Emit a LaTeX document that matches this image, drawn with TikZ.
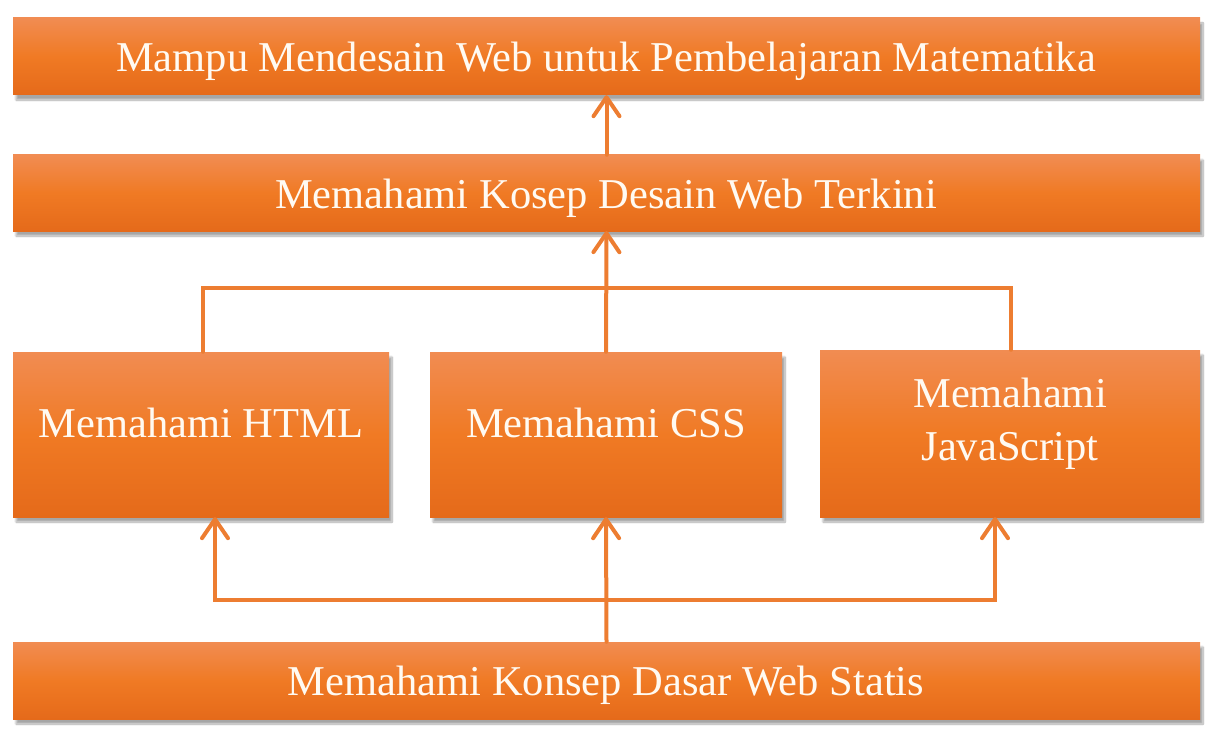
\documentclass[tikz,border=0pt]{standalone}
\usepackage{fontspec}
\setmainfont{Liberation Serif}
\usetikzlibrary{arrows.meta,shadows.blur}
\definecolor{otop}{HTML}{F18C52}
\definecolor{omid}{HTML}{F07A24}
\definecolor{obot}{HTML}{E56A1A}
\definecolor{oline}{HTML}{ED7D31}
\definecolor{otext}{HTML}{FFFAF2}
\tikzset{
  box/.style={rectangle, inner sep=0pt, top color=otop, bottom color=obot, middle color=omid,
    draw=none,
    blur shadow={shadow xshift=3pt, shadow yshift=-5pt, shadow blur steps=10, shadow blur extra rounding=0pt, shadow opacity=35}},
  lbl/.style={inner sep=0pt, text=otext, font=\fontsize{42.5}{53}\selectfont, align=center, anchor=base},
  conn/.style={draw=oline, line width=4pt, line cap=round, line join=miter},
  arr/.style={conn, -{Straight Barb[length=19pt, width=26pt, line width=4pt, round]}}
}
\begin{document}
\begin{tikzpicture}[x=1pt,y=-1pt]
\useasboundingbox (0,0) rectangle (1210,733);
\node[box, minimum width=1187pt, minimum height=77pt] (goal) at (606.5,56.5) {};
\node[box, minimum width=1187pt, minimum height=76pt] (konsep) at (606.5,193) {};
\node[box, minimum width=376pt, minimum height=165pt] (html) at (201,434.5) {};
\node[box, minimum width=352pt, minimum height=165pt] (css) at (606,434.5) {};
\node[box, minimum width=380pt, minimum height=167pt] (js) at (1010,433.5) {};
\node[box, minimum width=1187pt, minimum height=77pt] (dasar) at (606.5,680.5) {};
\node[lbl] (goal-t) at (606,72) {Mampu Mendesain Web untuk Pembelajaran Matematika};
\node[lbl] (konsep-t) at (606,208) {Memahami Kosep Desain Web Terkini};
\node[lbl] (html-t) at (201,437) {Memahami HTML};
\node[lbl] (css-t) at (606,437) {Memahami CSS};
\node[lbl] (js-t) at (1010,460) {Memahami\\JavaScript};
\node[lbl] (dasar-t) at (606,695) {Memahami Konsep Dasar Web Statis};
\coordinate (tl) at (203,288);
\coordinate (tr) at (1011,288);
\coordinate (bl) at (215,600);
\coordinate (br) at (995,600);
\draw[arr] (konsep.north) -- (goal.south);
\draw[arr] (css.north) -- (konsep.south);
\draw[conn] (html.north -| tl) -- (tl) -- (tr) -- (js.north -| tr);
\draw[arr] (dasar.north) -- (css.south);
\draw[arr] (dasar.north |- bl) -- (bl) -- (bl |- html.south);
\draw[arr] (dasar.north |- br) -- (br) -- (br |- js.south);
\end{tikzpicture}
\end{document}
